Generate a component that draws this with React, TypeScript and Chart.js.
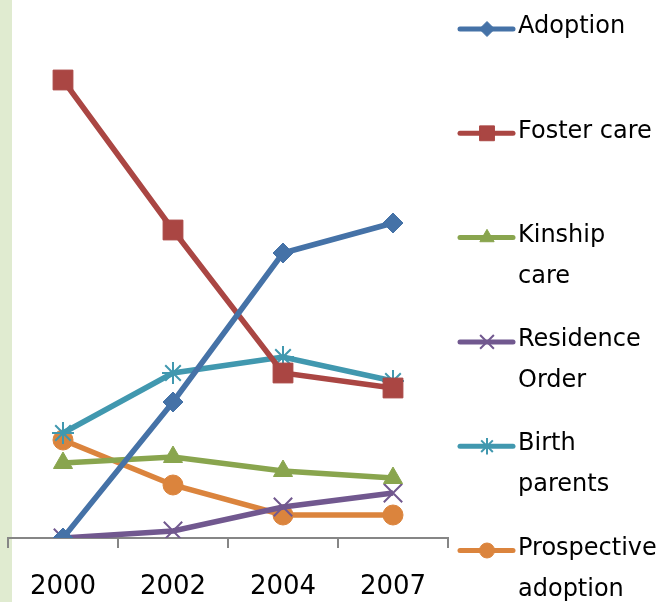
import React, { useEffect, useRef } from "react";
import { Chart, registerables } from "chart.js";
import { drawPoint } from "chart.js/helpers";

Chart.register(...registerables);

const years = ["2000", "2002", "2004", "2007"];

const adoption = [0, 13.6, 28.5, 31.5];
const fosterCare = [45.8, 30.8, 16.5, 15.0];
const kinshipCare = [7.5, 8.1, 6.7, 6.0];
const residenceOrder = [0, 0.7, 3.1, 4.5];
const birthParents = [10.5, 16.5, 18.1, 15.7];
const prospectiveAdoption = [9.8, 5.3, 2.3, 2.3];

const seriesNames = ["Adoption", "Foster care", "Kinship care", "Residence Order", "Birth parents", "Prospective adoption"];
const legendLines = [["Adoption"], ["Foster care"], ["Kinship", "care"], ["Residence", "Order"], ["Birth", "parents"], ["Prospective", "adoption"]];

const FONT = "'DejaVu Sans', sans-serif";

const stripPlugin = {
  id: "strip",
  beforeDraw(chart: any) {
    const ctx = chart.ctx;
    ctx.save();
    ctx.fillStyle = "#e0ebd0";
    ctx.fillRect(0, 0, 12, chart.height);
    ctx.restore();
  },
};

const legendPlugin = {
  id: "customLegend",
  afterDraw(chart: any) {
    const ctx = chart.ctx;
    ctx.save();
    const x0 = 460;
    const x1 = 513;
    const xm = 487;
    const tx = 518;
    const startY = 29;
    const step = 104.3;
    chart.data.datasets.forEach((ds: any, i: number) => {
      const y = startY + i * step;
      ctx.strokeStyle = ds.borderColor;
      ctx.lineWidth = 5;
      ctx.lineCap = "round";
      ctx.beginPath();
      ctx.moveTo(x0, y);
      ctx.lineTo(x1, y);
      ctx.stroke();
      ctx.lineCap = "butt";
      ctx.fillStyle = ds.pointBackgroundColor;
      ctx.strokeStyle = ds.pointBorderColor;
      ctx.lineWidth = ds.pointBorderWidth;
      drawPoint(ctx, { pointStyle: ds.pointStyle, rotation: 0, borderWidth: ds.pointBorderWidth, radius: ds.pointRadius * 0.75 }, xm, y);
      ctx.fillStyle = "#000";
      ctx.font = `24px ${FONT}`;
      ctx.textAlign = "left";
      ctx.textBaseline = "middle";
      legendLines[i].forEach((t, j) => {
        ctx.fillText(t, tx, y - 2 + j * 41);
      });
    });
    ctx.restore();
  },
};

function mk(label: string, data: number[], color: string, style: string, radius: number, bw: number, fill: boolean) {
  return {
    label,
    data,
    borderColor: color,
    backgroundColor: color,
    borderWidth: 5.5,
    pointStyle: style,
    pointRadius: radius,
    pointHoverRadius: radius,
    pointBackgroundColor: fill ? color : "rgba(0,0,0,0)",
    pointBorderColor: color,
    pointBorderWidth: bw,
    tension: 0,
  };
}

export default function App() {
  const ref = useRef<HTMLCanvasElement>(null);
  useEffect(() => {
    if (!ref.current) return;
    const chart = new Chart(ref.current, {
      type: "line",
      data: {
        labels: years,
        datasets: [
          mk(seriesNames[0], adoption, "#4572a7", "rectRot", 10, 1, true),
          mk(seriesNames[1], fosterCare, "#aa4643", "rect", 14, 1, true),
          mk(seriesNames[2], kinshipCare, "#89a54e", "triangle", 11, 1, true),
          mk(seriesNames[3], residenceOrder, "#71588f", "crossRot", 13, 2, false),
          mk(seriesNames[4], birthParents, "#4198af", "star", 11, 2, false),
          mk(seriesNames[5], prospectiveAdoption, "#db843d", "circle", 10, 1, true),
        ],
      },
      plugins: [stripPlugin, legendPlugin],
      options: {
        animation: false,
        responsive: false,
        maintainAspectRatio: false,
        layout: { autoPadding: false, padding: { left: 8, right: 209, top: 38, bottom: 1 } },
        plugins: { legend: { display: false }, tooltip: { enabled: false } },
        scales: {
          x: {
            offset: true,
            afterFit: (scale: any) => {
              scale.height = 63;
              scale.paddingLeft = 0;
              scale.paddingRight = 0;
            },
            grid: { offset: true, drawOnChartArea: false, drawTicks: true, tickLength: 10, color: "#868686", lineWidth: 2 },
            border: { display: true, color: "#868686", width: 2 },
            ticks: { color: "#000", font: { family: FONT, size: 26 }, padding: 24, maxRotation: 0, autoSkip: false },
          },
          y: { display: false, min: 0, max: 50 },
        },
      },
    });
    return () => chart.destroy();
  }, []);
  return (
    <div style={{ position: "fixed", left: 0, top: 0, width: 657, height: 602, background: "#fff" }}>
      <canvas ref={ref} width={657} height={602} style={{ width: 657, height: 602, display: "block" }} />
    </div>
  );
}
